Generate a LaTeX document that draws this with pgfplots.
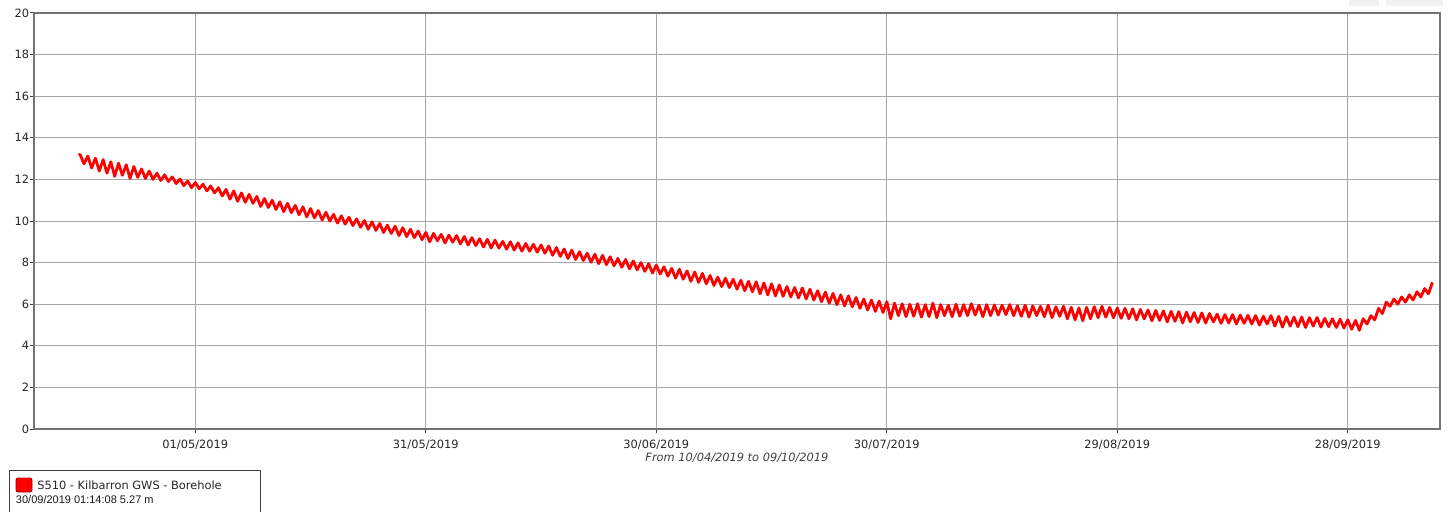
\documentclass[border=0pt]{standalone}
\usepackage{fontspec}
\setmainfont{DejaVu Sans}
\newfontfamily\lib{Liberation Sans}
\usepackage{pgfplots}
\pgfplotsset{compat=1.18}
\begin{document}
\fontsize{8.55pt}{10pt}\selectfont
\begin{tikzpicture}
\useasboundingbox (-25.5pt,-61.5pt) rectangle (1062.75pt,321.75pt);
\fill[black!5] (986.25pt,321.75pt) rectangle (1008.75pt,317.25pt);
\fill[black!5] (1014pt,321.75pt) rectangle (1056.75pt,317.25pt);
\begin{axis}[
 at={(0pt,0pt)}, anchor=south west,
 scale only axis, width=1054.5pt, height=312pt,
 xmin=0, xmax=183, ymin=0, ymax=20,
 xtick={21,51,81,111,141,171},
 xticklabels={01/05/2019,31/05/2019,30/06/2019,30/07/2019,29/08/2019,28/09/2019},
 ytick={0,2,...,20},
 grid=major,
 major grid style={black!35, line width=0.75pt},
 axis line style={black!55, line width=0.9pt},
 tick style={black!75, line width=0.75pt},
 tick align=outside, major tick length=3pt,
 xtick pos=left, ytick pos=left,
 /pgf/number format/assume math mode=true,
 tick label style={font=\fontsize{8.55pt}{10pt}\selectfont, text=black!85},
 xticklabel style={anchor=north, inner sep=0pt, yshift=-5pt},
 yticklabel style={anchor=east, inner sep=0pt, xshift=-0.5pt},
 xlabel={\itshape From 10/04/2019 to 09/10/2019},
 xlabel style={at={(axis description cs:0.5,0)}, anchor=north, inner sep=0pt, yshift=-18pt, font=\fontsize{8.55pt}{10pt}\selectfont, text=black!75},
]
\addplot[color=red, line width=2.1pt, line join=round] coordinates {
(5.8,13.17) (6,13.20) (6.5,12.75) (7,13.12) (7.5,12.55) (8,13.02) (8.5,12.40) (9,12.95) (9.5,12.30) (10,12.85) (10.5,12.15) (11,12.78) (11.5,12.20) (12,12.70) (12.5,12.05) (13,12.62) (13.5,12.10) (14,12.50) (14.5,12.05) (15,12.40) (15.5,12.00) (16,12.30) (16.5,11.95) (17,12.22) (17.5,11.90) (18,12.12) (18.5,11.80) (19,12.02) (19.5,11.70) (20,11.92) (20.5,11.60) (21,11.85) (21.5,11.55)
(22,11.77) (22.5,11.45) (23,11.68) (23.5,11.35) (24,11.60) (24.5,11.20) (25,11.52) (25.5,11.05) (26,11.45) (26.5,10.95) (27,11.35) (27.5,10.90) (28,11.28) (28.5,10.85) (29,11.18) (29.5,10.70) (30,11.08) (30.5,10.65) (31,11.00) (31.5,10.55) (32,10.92) (32.5,10.45) (33,10.85) (33.5,10.40) (34,10.75) (34.5,10.30) (35,10.68) (35.5,10.20) (36,10.60) (36.5,10.15) (37,10.50) (37.5,10.05) (38,10.42) (38.5,10.00) (39,10.32) (39.5,9.90) (40,10.25) (40.5,9.85)
(41,10.18) (41.5,9.78) (42,10.10) (42.5,9.70) (43,10.02) (43.5,9.60) (44,9.96) (44.5,9.55) (45,9.88) (45.5,9.45) (46,9.80) (46.5,9.40) (47,9.75) (47.5,9.30) (48,9.68) (48.5,9.25) (49,9.60) (49.5,9.20) (50,9.52) (50.5,9.10) (51,9.45) (51.5,9.00)
(52,9.40) (52.5,9.05) (53,9.36) (53.5,8.95) (54,9.32) (54.5,8.98) (55,9.30) (55.5,8.90) (56,9.25) (56.5,8.85) (57,9.20) (57.5,8.82) (58,9.15) (58.5,8.75) (59,9.12) (59.5,8.70) (60,9.08) (60.5,8.70) (61,9.02) (61.5,8.65) (62,9.00) (62.5,8.60) (63,8.95) (63.5,8.55) (64,8.92) (64.5,8.55) (65,8.88) (65.5,8.50) (66,8.85) (66.5,8.45)
(67,8.80) (67.5,8.35) (68,8.72) (68.5,8.30) (69,8.65) (69.5,8.20) (70,8.60) (70.5,8.15) (71,8.52) (71.5,8.10) (72,8.45) (72.5,8.02) (73,8.40) (73.5,7.95) (74,8.35) (74.5,7.90) (75,8.28) (75.5,7.85) (76,8.20) (76.5,7.78) (77,8.15) (77.5,7.70) (78,8.08) (78.5,7.65) (79,8.00) (79.5,7.58) (80,7.95) (80.5,7.50)
(81,7.88) (81.5,7.45) (82,7.80) (82.5,7.35) (83,7.72) (83.5,7.25) (84,7.68) (84.5,7.20) (85,7.60) (85.5,7.10) (86,7.55) (86.5,7.05) (87,7.48) (87.5,6.98) (88,7.38) (88.5,6.90) (89,7.30) (89.5,6.85)
(90,7.25) (90.5,6.80) (91,7.20) (91.5,6.72) (92,7.15) (92.5,6.65) (93,7.10) (93.5,6.60) (94,7.08) (94.5,6.50) (95,7.02) (95.5,6.45) (96,6.98) (96.5,6.40) (97,6.92) (97.5,6.38) (98,6.85) (98.5,6.35) (99,6.80) (99.5,6.30) (100,6.78) (100.5,6.25)
(101,6.72) (101.5,6.20) (102,6.65) (102.5,6.12) (103,6.58) (103.5,6.05) (104,6.52) (104.5,5.98) (105,6.45) (105.5,5.92) (106,6.40) (106.5,5.88) (107,6.32) (107.5,5.80) (108,6.25) (108.5,5.72) (109,6.20) (109.5,5.65) (110,6.15) (110.5,5.60) (111,6.12) (111.5,5.30)
(112,6.05) (112.5,5.45) (113,6.02) (113.5,5.40) (114,6.00) (114.5,5.42) (115,6.02) (115.5,5.38) (116,5.98) (116.5,5.40) (117,6.05) (117.5,5.35) (118,5.98) (118.5,5.45) (119,5.95) (119.5,5.40) (120,6.00) (120.5,5.42) (121,5.98) (121.5,5.45) (122,6.02) (122.5,5.48) (123,5.95) (123.5,5.40) (124,5.98) (124.5,5.45) (125,5.96) (125.5,5.48) (126,5.95) (126.5,5.50) (127,5.98) (127.5,5.45) (128,5.92) (128.5,5.42) (129,5.95) (129.5,5.38) (130,5.92) (130.5,5.45) (131,5.90) (131.5,5.40) (132,5.95) (132.5,5.35) (133,5.88) (133.5,5.42) (134,5.90) (134.5,5.30) (135,5.85) (135.5,5.25) (136,5.82) (136.5,5.20) (137,5.85) (137.5,5.30) (138,5.88) (138.5,5.35) (139,5.90) (139.5,5.38)
(140,5.85) (140.5,5.35) (141,5.82) (141.5,5.32) (142,5.80) (142.5,5.30) (143,5.78) (143.5,5.25) (144,5.75) (144.5,5.30) (145,5.72) (145.5,5.20) (146,5.70) (146.5,5.22) (147,5.68) (147.5,5.15) (148,5.66) (148.5,5.18) (149,5.64) (149.5,5.10) (150,5.62) (150.5,5.15) (151,5.60) (151.5,5.12) (152,5.58) (152.5,5.10) (153,5.55) (153.5,5.15) (154,5.52) (154.5,5.08) (155,5.50) (155.5,5.10) (156,5.50) (156.5,5.05) (157,5.48) (157.5,5.08) (158,5.46) (158.5,5.05) (159,5.45) (159.5,5.00) (160,5.42) (160.5,5.05)
(161,5.45) (161.5,4.95) (162,5.42) (162.5,4.90) (163,5.40) (163.5,4.95) (164,5.38) (164.5,4.92) (165,5.38) (165.5,4.88) (166,5.35) (166.5,4.95) (167,5.36) (167.5,4.90) (168,5.32) (168.5,4.92) (169,5.30) (169.5,4.88) (170,5.28) (170.5,4.85) (171,5.25) (171.5,4.80) (172,5.22) (172.5,4.75) (173,5.30) (173.5,5.05) (174,5.45) (174.5,5.25) (175,5.80) (175.5,5.55) (176,6.10) (176.5,5.90) (177,6.25) (177.5,6.00) (178,6.35) (178.5,6.10) (179,6.45) (179.5,6.20) (180,6.60) (180.5,6.35) (181,6.75) (181.5,6.50) (182,7.05)
};
\end{axis}
% legend box
\draw[black!75, line width=0.75pt, fill=white] (-18.4pt,-31.1pt) rectangle (169.5pt,-70pt);
\draw[red!60!black, line width=0.6pt, fill=red, rounded corners=1.5pt] (-13.5pt,-36.75pt) rectangle (-1.5pt,-47.25pt);
\node[anchor=west, inner sep=0pt, text=black!85, font=\fontsize{8.55pt}{10pt}\selectfont] at (2.25pt,-42pt) {S510 - Kilbarron GWS - Borehole};
\node[anchor=west, inner sep=0pt, text=black!90, font=\lib\fontsize{8.25pt}{10pt}\selectfont] at (-13.7pt,-53.25pt) {30/09/2019 01:14:08 5.27 m};
\end{tikzpicture}
\end{document}
